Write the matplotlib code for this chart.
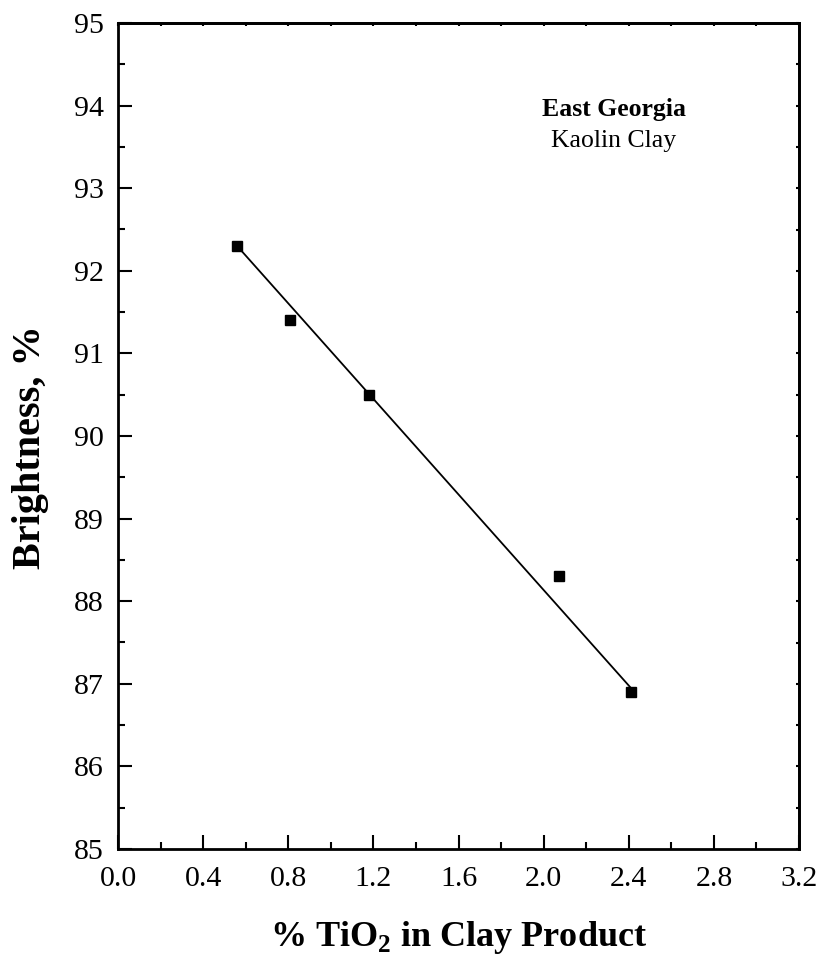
import numpy as np
import matplotlib
matplotlib.use("Agg")
import matplotlib.pyplot as plt
from matplotlib.ticker import MultipleLocator

plt.rcParams['font.family'] = ['Liberation Serif', 'DejaVu Serif']
plt.rcParams['mathtext.fontset'] = 'custom'
plt.rcParams['mathtext.rm'] = 'Liberation Serif:bold'
plt.rcParams['mathtext.bf'] = 'Liberation Serif:bold'

# measured points
tio2 = [0.56, 0.81, 1.18, 2.07, 2.41]
brightness = [92.3, 91.4, 90.5, 88.3, 86.9]

# fitted line ends
fit_x = [0.56, 2.41]
fit_y = [92.3, 86.95]

fig = plt.figure(figsize=(8.22, 9.57), dpi=100)
ax = fig.add_axes([118/822, 1 - 849/957, (799-118)/822, (849-23)/957])

ax.plot(fit_x, fit_y, color='black', lw=1.3)
ax.plot(tio2, brightness, 's', color='black', ms=7)

ax.set_xlim(0, 3.2)
ax.set_ylim(85, 95)
ax.xaxis.set_major_locator(MultipleLocator(0.4))
ax.xaxis.set_minor_locator(MultipleLocator(0.2))
ax.yaxis.set_major_locator(MultipleLocator(1))
ax.yaxis.set_minor_locator(MultipleLocator(0.5))
ax.xaxis.set_major_formatter(matplotlib.ticker.FormatStrFormatter('%.1f'))

for s in ax.spines.values():
    s.set_linewidth(2)
ax.tick_params(which='major', direction='in', length=10, width=1.5, labelsize=21.5)
ax.tick_params(axis='x', which='major', pad=12)
ax.tick_params(axis='y', which='major', pad=10)
ax.tick_params(which='minor', direction='in', length=5, width=1.5)
ax.tick_params(which='both', top=False, right=False)

# short ticks on top and right
ax_top = ax.secondary_xaxis('top')
ax_top.xaxis.set_major_locator(MultipleLocator(0.2))
ax_top.tick_params(direction='in', length=2.5, width=1.5, labeltop=False)
ax_top.spines['top'].set_linewidth(2)
ax_right = ax.secondary_yaxis('right')
ax_right.yaxis.set_major_locator(MultipleLocator(0.5))
ax_right.tick_params(direction='in', length=2.5, width=1.5, labelright=False)
ax_right.spines['right'].set_linewidth(2)

ax.set_xlabel('% TiO$_2$ in Clay Product', fontsize=26, fontweight='bold', labelpad=20)
ax.set_ylabel('Brightness, %', fontsize=29, fontweight='bold')
ax.yaxis.set_label_coords(-0.102, 0.487)

ax.text(0.728, 0.895, 'East Georgia', transform=ax.transAxes, ha='center',
        va='center', fontsize=18.5, fontweight='bold')
ax.text(0.728, 0.857, 'Kaolin Clay', transform=ax.transAxes, ha='center',
        va='center', fontsize=18.5)

fig.savefig('out.png', dpi=100)
